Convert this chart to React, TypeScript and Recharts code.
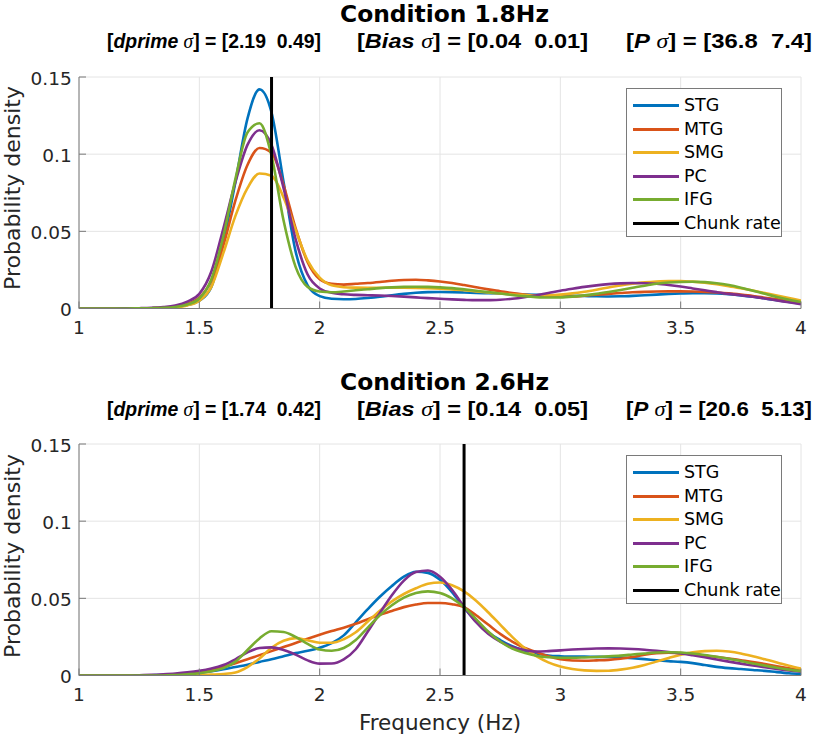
import React from 'react';
import { LineChart, Line, XAxis, YAxis, CartesianGrid, ReferenceLine } from 'recharts';

// ---------- data ----------
const freq = [
  1, 1.05, 1.1, 1.15, 1.2,
  1.25, 1.3, 1.35, 1.4, 1.45,
  1.5, 1.55, 1.6, 1.65, 1.7,
  1.75, 1.8, 1.85, 1.9, 1.95,
  2, 2.05, 2.1, 2.15, 2.2,
  2.25, 2.3, 2.35, 2.4, 2.45,
  2.5, 2.55, 2.6, 2.65, 2.7,
  2.75, 2.8, 2.85, 2.9, 2.95,
  3, 3.05, 3.1, 3.15, 3.2,
  3.25, 3.3, 3.35, 3.4, 3.45,
  3.5, 3.55, 3.6, 3.65, 3.7,
  3.75, 3.8, 3.85, 3.9, 3.95,
  4,
];

const seriesNames = ['STG', 'MTG', 'SMG', 'PC', 'IFG'];
const seriesColors = ['#0072BD', '#D95319', '#EDB120', '#7E2F8E', '#77AC30'];
const chunkLabel = 'Chunk rate';

const xTicks = [1, 1.5, 2, 2.5, 3, 3.5, 4];
const yTicks = [0, 0.05, 0.1, 0.15];

// Condition 1.8Hz
const top_STG = [
  0, 0, 0, 0, 0,
  0.0001, 0.0002, 0.0004, 0.0009, 0.0022,
  0.005, 0.014, 0.043, 0.082, 0.123,
  0.142, 0.127, 0.082, 0.037, 0.015,
  0.008, 0.0063, 0.006, 0.0062, 0.0068,
  0.0076, 0.0086, 0.0095, 0.0102, 0.0106,
  0.0107, 0.0106, 0.0104, 0.0101, 0.0099,
  0.0097, 0.0094, 0.0091, 0.0089, 0.0087,
  0.0085, 0.0083, 0.0081, 0.0079, 0.0078,
  0.0079, 0.0082, 0.0086, 0.009, 0.0094,
  0.0097, 0.0099, 0.0099, 0.0097, 0.0092,
  0.0085, 0.0076, 0.0065, 0.0053, 0.0042,
  0.0032,
];
const top_MTG = [
  0, 0, 0, 0, 0,
  0.0001, 0.0002, 0.0004, 0.001, 0.003,
  0.007, 0.018, 0.041, 0.07, 0.093,
  0.104, 0.101, 0.08, 0.052, 0.03,
  0.019, 0.016, 0.0155, 0.016, 0.0165,
  0.0172, 0.018, 0.0185, 0.0186, 0.0182,
  0.0175, 0.0165, 0.0152, 0.0138, 0.0124,
  0.0112, 0.01, 0.009, 0.0082, 0.0077,
  0.0076, 0.0078, 0.0083, 0.0089, 0.0095,
  0.01, 0.0105, 0.0108, 0.011, 0.0111,
  0.0111, 0.011, 0.0108, 0.0104, 0.0098,
  0.009, 0.0081, 0.007, 0.0059, 0.0048,
  0.0039,
];
const top_SMG = [
  0, 0, 0, 0, 0,
  0.0001, 0.0002, 0.0004, 0.0008, 0.002,
  0.005, 0.014, 0.036, 0.06, 0.078,
  0.0875, 0.086, 0.072, 0.051, 0.031,
  0.02, 0.015, 0.0138, 0.0135, 0.0134,
  0.0134, 0.0134, 0.0134, 0.0133, 0.0131,
  0.0128, 0.0124, 0.0118, 0.0111, 0.0104,
  0.0097, 0.0091, 0.0087, 0.0085, 0.0086,
  0.009, 0.0098, 0.0109, 0.0122, 0.0136,
  0.0149, 0.016, 0.0169, 0.0175, 0.0178,
  0.0178, 0.0174, 0.0167, 0.0157, 0.0145,
  0.0131, 0.0116, 0.01, 0.0084, 0.0068,
  0.0052,
];
const top_PC = [
  0, 0, 0, 0, 0.0001,
  0.0002, 0.0004, 0.0009, 0.002, 0.0045,
  0.0095, 0.024, 0.052, 0.082, 0.106,
  0.1155, 0.106, 0.078, 0.045, 0.022,
  0.013, 0.0102, 0.0092, 0.0088, 0.0086,
  0.0084, 0.0081, 0.0077, 0.0072, 0.0067,
  0.0063, 0.0059, 0.0056, 0.0054, 0.0054,
  0.0057, 0.0063, 0.0073, 0.0086, 0.01,
  0.0115, 0.0128, 0.014, 0.015, 0.0158,
  0.0163, 0.0165, 0.0164, 0.016, 0.0152,
  0.0142, 0.013, 0.0118, 0.0106, 0.0095,
  0.0086, 0.0076, 0.0065, 0.0052, 0.004,
  0.0027,
];
const top_IFG = [
  0, 0, 0, 0, 0,
  0.0001, 0.0002, 0.0004, 0.001, 0.0026,
  0.0065, 0.019, 0.047, 0.084, 0.114,
  0.12, 0.099, 0.057, 0.027, 0.014,
  0.011, 0.0105, 0.011, 0.0118, 0.0125,
  0.0132, 0.0137, 0.014, 0.0141, 0.014,
  0.0137, 0.0132, 0.0124, 0.0115, 0.0106,
  0.0097, 0.0088, 0.008, 0.0074, 0.0071,
  0.0072, 0.0077, 0.0085, 0.0095, 0.0107,
  0.012, 0.0134, 0.0148, 0.016, 0.0168,
  0.0172, 0.0173, 0.0171, 0.0164, 0.0152,
  0.0135, 0.0115, 0.0095, 0.0075, 0.0057,
  0.0042,
];

// Condition 2.6Hz
const bot_STG = [
  0, 0, 0, 0, 0,
  0.0001, 0.0002, 0.0003, 0.0006, 0.001,
  0.0017, 0.0027, 0.004, 0.0055, 0.007,
  0.0088, 0.0105, 0.0125, 0.0145, 0.016,
  0.018, 0.021, 0.026, 0.0345, 0.043,
  0.051, 0.058, 0.064, 0.0672, 0.0665,
  0.062, 0.054, 0.044, 0.035, 0.028,
  0.023, 0.019, 0.0162, 0.0142, 0.013,
  0.0125, 0.0123, 0.0122, 0.0121, 0.012,
  0.0117, 0.0112, 0.0106, 0.0099, 0.0093,
  0.0088, 0.008, 0.0068, 0.0056, 0.0048,
  0.0042, 0.0036, 0.003, 0.0022, 0.0015,
  0.001,
];
const bot_MTG = [
  0, 0, 0, 0, 0,
  0, 0, 0.0003, 0.0007, 0.0014,
  0.0025, 0.004, 0.0058, 0.008, 0.0105,
  0.0132, 0.0158, 0.0185, 0.021, 0.0238,
  0.0264, 0.0288, 0.031, 0.0335, 0.0365,
  0.0394, 0.0418, 0.0443, 0.046, 0.047,
  0.047, 0.0462, 0.0443, 0.039, 0.033,
  0.027, 0.022, 0.018, 0.0152, 0.0124,
  0.0105, 0.0097, 0.0096, 0.0098, 0.0101,
  0.0108, 0.012, 0.0135, 0.0145, 0.0148,
  0.0145, 0.0138, 0.013, 0.012, 0.011,
  0.0099, 0.0088, 0.0074, 0.006, 0.0046,
  0.0033,
];
const bot_SMG = [
  0, 0, 0, 0, 0,
  0, 0, 0, 0, 0,
  0.0003, 0.0006, 0.001, 0.002, 0.0055,
  0.011, 0.018, 0.0225, 0.0242, 0.0228,
  0.0212, 0.0212, 0.0235, 0.028, 0.035,
  0.042, 0.048, 0.0528, 0.0565, 0.0595,
  0.0603, 0.0585, 0.0545, 0.0485, 0.041,
  0.033, 0.025, 0.018, 0.0125, 0.0085,
  0.0058, 0.0042, 0.0033, 0.003, 0.0031,
  0.0038, 0.005, 0.0068, 0.009, 0.0113,
  0.0135, 0.015, 0.0158, 0.016, 0.0155,
  0.0143, 0.0125, 0.0105, 0.0085, 0.0063,
  0.0044,
];
const bot_PC = [
  0, 0, 0, 0, 0,
  0.0002, 0.0004, 0.0008, 0.0013, 0.002,
  0.003, 0.0045, 0.0068, 0.0105, 0.015,
  0.0178, 0.0182, 0.0165, 0.0135, 0.0098,
  0.0077, 0.0078, 0.0105, 0.017, 0.0285,
  0.0405, 0.052, 0.0615, 0.067, 0.068,
  0.064, 0.0555, 0.0445, 0.0345, 0.027,
  0.022, 0.0185, 0.0165, 0.0155, 0.0158,
  0.0163, 0.0168, 0.0172, 0.0175, 0.0176,
  0.0175, 0.0172, 0.0167, 0.016, 0.0152,
  0.0143, 0.0131, 0.0118, 0.0104, 0.009,
  0.0077, 0.0065, 0.0053, 0.0042, 0.0032,
  0.0024,
];
const bot_IFG = [
  0, 0, 0, 0, 0,
  0, 0, 0, 0.0003, 0.0008,
  0.0015, 0.0028, 0.0048, 0.009, 0.0165,
  0.024, 0.0287, 0.0282, 0.025, 0.0205,
  0.0168, 0.016, 0.0178, 0.023, 0.031,
  0.039, 0.0455, 0.0505, 0.0535, 0.0545,
  0.0535, 0.05, 0.0443, 0.0365, 0.0285,
  0.022, 0.0175, 0.0148, 0.0128, 0.0118,
  0.0115, 0.0115, 0.0117, 0.012, 0.0124,
  0.0129, 0.0136, 0.0143, 0.0149, 0.0151,
  0.0149, 0.0143, 0.0133, 0.0121, 0.0108,
  0.0094, 0.0078, 0.0064, 0.005, 0.0038,
  0.0028,
];

const topTitle = 'Condition 1.8Hz';
const botTitle = 'Condition 2.6Hz';
const topChunk = 1.8;
const botChunk = 2.6;
const topStats = [['dprime', '2.19  0.49'], ['Bias', '0.04  0.01'], ['P', '36.8  7.4']];
const botStats = [['dprime', '1.74  0.42'], ['Bias', '0.14  0.05'], ['P', '20.6  5.13']];
const yLabel = 'Probability density';
const xLabel = 'Frequency (Hz)';

// ---------- helpers ----------
function buildRows(series: number[][]) {
  return freq.map((f, i) => {
    const r: any = { f };
    seriesNames.forEach((n, k) => { r[n] = series[k][i]; });
    return r;
  });
}

const topRows = buildRows([top_STG, top_MTG, top_SMG, top_PC, top_IFG]);
const botRows = buildRows([bot_STG, bot_MTG, bot_SMG, bot_PC, bot_IFG]);

const AXIS = '#7a7a7a';
const GRID = '#e4e4e4';
const TXT = '#262626';
const TICKFONT = "'DejaVu Sans', sans-serif";

const XTick = (props: any) => {
  const { x, y, payload } = props;
  return (
    <text x={x} y={y + 25.5} textAnchor="middle" fill={TXT} fontSize={18.5} fontFamily={TICKFONT}>
      {String(payload.value)}
    </text>
  );
};
const YTick = (props: any) => {
  const { x, y, payload } = props;
  return (
    <text x={x - 7.3} y={y + 7.5} textAnchor="end" fill={TXT} fontSize={18.5} fontFamily={TICKFONT}>
      {String(payload.value)}
    </text>
  );
};
const NoTick = () => <g />;

function Panel({ rows, chunk }: { rows: any[]; chunk: number }) {
  return (
    <LineChart width={820} height={370} data={rows} margin={{ top: 77, right: 19, bottom: 0, left: 0 }}>
      <CartesianGrid stroke={GRID} strokeWidth={1} />
      <XAxis dataKey="f" type="number" domain={[1, 4]} ticks={xTicks} interval={0} height={61.5}
        tickSize={-7} tickMargin={7} stroke={AXIS} tick={<XTick />} allowDataOverflow />
      <XAxis xAxisId="top" orientation="top" dataKey="f" type="number" domain={[1, 4]} ticks={xTicks}
        interval={0} height={0} tickSize={-7} stroke={AXIS} tick={<NoTick />} allowDataOverflow />
      <YAxis type="number" domain={[0, 0.15]} ticks={yTicks} interval={0} width={79}
        tickSize={-7} tickMargin={7} stroke={AXIS} tick={<YTick />} allowDataOverflow />
      <YAxis yAxisId="right" orientation="right" type="number" domain={[0, 0.15]} ticks={yTicks}
        interval={0} width={0} tickSize={-7} stroke={AXIS} tick={<NoTick />} allowDataOverflow />
      {seriesNames.map((n, k) => (
        <Line key={n} dataKey={n} type="monotone" stroke={seriesColors[k]} strokeWidth={2.6}
          dot={false} activeDot={false} isAnimationActive={false} />
      ))}
      <ReferenceLine x={chunk} stroke="#000" strokeWidth={3} />
    </LineChart>
  );
}

function LegendBox({ top }: { top: number }) {
  const items = seriesNames.map((n, k) => ({ n, c: seriesColors[k] })).concat([{ n: chunkLabel, c: '#000' }]);
  return (
    <div style={{
      position: 'absolute', left: 626, top, width: 156, height: 149, background: '#fff',
      border: `1px solid ${AXIS}`, boxSizing: 'border-box', paddingTop: 5,
    }}>
      {items.map((it) => (
        <div key={it.n} style={{ height: 23.5, display: 'flex', alignItems: 'center' }}>
          <div style={{ width: 46, height: 3, background: it.c, marginLeft: 6 }} />
          <span style={{ marginLeft: 5, fontFamily: TICKFONT, fontSize: 17.5, color: '#000', lineHeight: '23.5px' }}>{it.n}</span>
        </div>
      ))}
    </div>
  );
}

function Subtitle({ stats, y }: { stats: string[][]; y: number }) {
  const starts = [107, 357, 626];
  const lens = [214, 231, 186];
  return (
    <>
      {stats.map((s, i) => (
        <text key={i} x={starts[i]} y={y} fontFamily="'Liberation Sans', Arial, sans-serif" fontWeight="bold"
          fontSize={21} fill="#000" textLength={lens[i]} lengthAdjust="spacingAndGlyphs" style={{ whiteSpace: 'pre' }}>
          <tspan>[</tspan>
          <tspan fontStyle="italic">{s[0]}</tspan>
          <tspan> </tspan>
          <tspan fontFamily="'Liberation Serif', serif" fontStyle="italic" fontWeight="normal">σ</tspan>
          <tspan>{'] = [' + s[1] + ']'}</tspan>
        </text>
      ))}
    </>
  );
}

export default function App() {
  const off = 368;
  return (
    <div style={{ position: 'absolute', left: 0, top: 0, width: 820, height: 740, background: '#fff', overflow: 'hidden' }}>
      <div style={{ position: 'absolute', left: 0, top: 0 }}>
        <Panel rows={topRows} chunk={topChunk} />
      </div>
      <div style={{ position: 'absolute', left: 0, top: off - 1 }}>
        <Panel rows={botRows} chunk={botChunk} />
      </div>
      <svg width={820} height={740} style={{ position: 'absolute', left: 0, top: 0, pointerEvents: 'none' }}>
        <text x={444.5} y={22} textAnchor="middle" fontFamily="'DejaVu Sans', sans-serif" fontWeight="bold"
          fontSize={23.5} fill="#000" textLength={209} lengthAdjust="spacingAndGlyphs">{topTitle}</text>
        <Subtitle stats={topStats} y={48} />
        <text x={444.5} y={22 + off} textAnchor="middle" fontFamily="'DejaVu Sans', sans-serif" fontWeight="bold"
          fontSize={23.5} fill="#000" textLength={209} lengthAdjust="spacingAndGlyphs">{botTitle}</text>
        <Subtitle stats={botStats} y={48 + off} />
        <text transform={`translate(19.5,${188}) rotate(-90)`} textAnchor="middle" fontFamily={TICKFONT}
          fontSize={22} fill={TXT}>{yLabel}</text>
        <text transform={`translate(19.5,${188 + off}) rotate(-90)`} textAnchor="middle" fontFamily={TICKFONT}
          fontSize={22} fill={TXT}>{yLabel}</text>
        <text x={440} y={730} textAnchor="middle" fontFamily={TICKFONT} fontSize={21.5} fill={TXT}>{xLabel}</text>
      </svg>
      <LegendBox top={88} />
      <LegendBox top={88 + off - 1} />
    </div>
  );
}
